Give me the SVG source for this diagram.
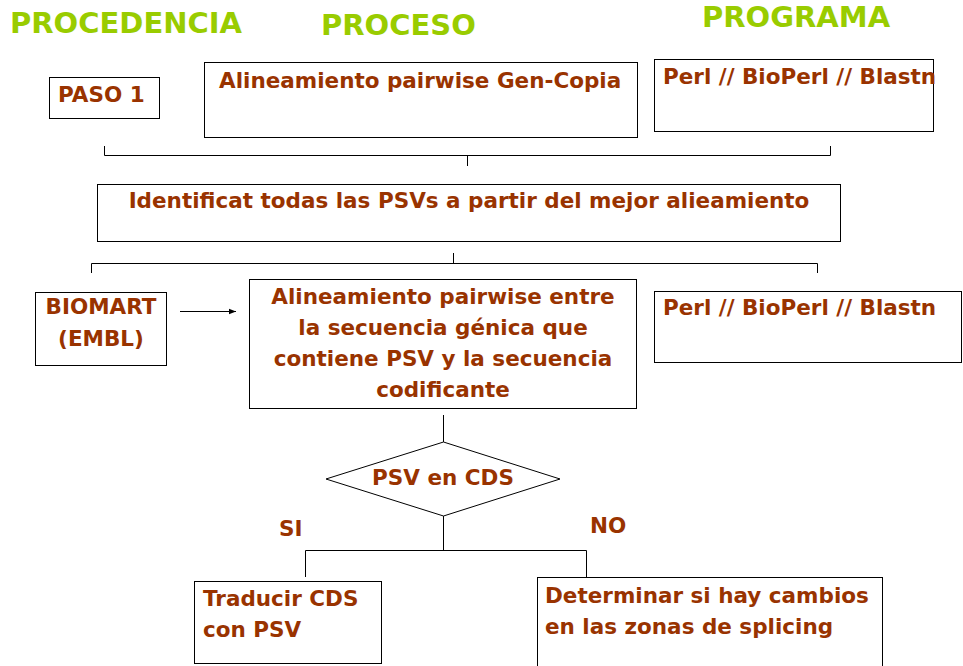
<svg xmlns="http://www.w3.org/2000/svg" width="963" height="666" viewBox="0 0 963 666">
<defs>
<marker id="ah" viewBox="0 0 10 10" refX="10" refY="5" markerWidth="7" markerHeight="7" orient="auto" markerUnits="userSpaceOnUse"><path d="M0,1 L10,5 L0,9 z" fill="#000"/></marker>
</defs>
<style>
.hd{font-family:"DejaVu Sans",sans-serif;font-weight:bold;font-size:29px;fill:#99cc00}
.t{font-family:"DejaVu Sans",sans-serif;font-weight:bold;font-size:21.5px;fill:#993300}
.b{fill:#fff;stroke:#000;stroke-width:1}
.c{fill:none;stroke:#000;stroke-width:1}
</style>
<rect width="963" height="666" fill="#fff"/>
<text class="hd" x="10" y="33">PROCEDENCIA</text>
<text class="hd" x="321" y="35">PROCESO</text>
<text class="hd" x="702" y="27">PROGRAMA</text>
<g id="connectors">
<path class="c" d="M104.5,146 V155.5 H830.5 V146 M467.5,155.5 V166"/>
<path class="c" d="M453.5,253 V263.5 M91.5,273 V263.5 H817.5 V273"/>
<path class="c" d="M180,311.5 H236" marker-end="url(#ah)"/>
<path class="c" d="M443.5,415 V442"/>
<path class="c" d="M443.5,516 V550.5 M305.5,577 V550.5 H586.5 V577"/>
</g>
<g id="paso1"><rect class="b" x="49.5" y="77.5" width="110" height="41"/><text class="t" x="58" y="102">PASO 1</text></g>
<g id="alin1"><rect class="b" x="204.5" y="62.5" width="433" height="75"/><text class="t" x="219" y="88">Alineamiento pairwise Gen-Copia</text></g>
<g id="perl1"><rect class="b" x="654.5" y="59.5" width="279" height="72"/><text class="t" x="663" y="84">Perl // BioPerl // Blastn</text></g>
<g id="ident"><rect class="b" x="97.5" y="184.5" width="743" height="57"/><text class="t" x="469" y="208" text-anchor="middle">Identificat todas las PSVs a partir del mejor alieamiento</text></g>
<g id="biomart"><rect class="b" x="35.5" y="292.5" width="131" height="73"/><text class="t" x="101" y="314" text-anchor="middle">BIOMART</text><text class="t" x="101" y="346" text-anchor="middle">(EMBL)</text></g>
<g id="alin2"><rect class="b" x="249.5" y="279.5" width="387" height="129"/>
<text class="t" x="443" y="304" text-anchor="middle">Alineamiento pairwise entre</text>
<text class="t" x="443" y="335" text-anchor="middle">la secuencia génica que</text>
<text class="t" x="443" y="366" text-anchor="middle">contiene PSV y la secuencia</text>
<text class="t" x="443" y="397" text-anchor="middle">codificante</text></g>
<g id="perl2"><rect class="b" x="654.5" y="291.5" width="307" height="71"/><text class="t" x="663" y="315">Perl // BioPerl // Blastn</text></g>
<g id="decision"><polygon class="b" points="443.5,442 560,479 443.5,516 326,479"/><text class="t" x="443" y="485" text-anchor="middle">PSV en CDS</text></g>
<text class="t" x="279" y="536">SI</text>
<text class="t" x="590" y="533">NO</text>
<g id="traducir"><rect class="b" x="194.5" y="581.5" width="187" height="82"/><text class="t" x="203" y="606">Traducir CDS</text><text class="t" x="203" y="637">con PSV</text></g>
<g id="determinar"><rect class="b" x="537.5" y="577.5" width="345" height="95"/><text class="t" x="545" y="603">Determinar si hay cambios</text><text class="t" x="545" y="634">en las zonas de splicing</text></g>
</svg>
